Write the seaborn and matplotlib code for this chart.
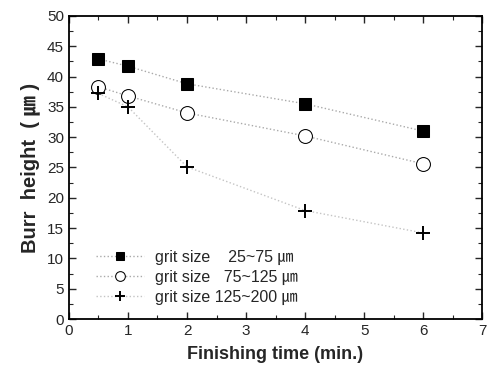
import matplotlib

matplotlib.use("Agg")

import matplotlib.pyplot as plt
import numpy as np
import pandas as pd
import seaborn as sns
from matplotlib.ticker import MultipleLocator

# dados
tempo = [0.5, 1, 2, 4, 6]
burr_25_75 = [42.9, 41.7, 38.8, 35.5, 31.0]
burr_75_125 = [38.3, 36.8, 34.0, 30.2, 25.6]
burr_125_200 = [37.2, 35.0, 25.1, 17.9, 14.2]
rotulos = [
    "grit size    25~75 ㎛",
    "grit size   75~125 ㎛",
    "grit size 125~200 ㎛",
]

sns.set_theme(style="ticks")
plt.rcParams["font.family"] = ["Liberation Sans", "Noto Sans CJK JP", "DejaVu Sans"]

df = pd.DataFrame(
    {
        "tempo": tempo * 3,
        "burr": burr_25_75 + burr_75_125 + burr_125_200,
        "serie": np.repeat(rotulos, len(tempo)),
    }
)

fig = plt.figure(figsize=(4.89, 3.78), dpi=100)
ax = fig.add_axes([0.141, 0.156, 0.845, 0.802])

estilos = {
    rotulos[0]: dict(marker="s", ms=9, mfc="black", mec="black", color="#aaaaaa"),
    rotulos[1]: dict(marker="o", ms=10, mfc="white", mec="black", color="#aaaaaa"),
    rotulos[2]: dict(marker="+", ms=10, mew=1.4, mec="black", color="#c4c4c4"),
}

for nome in rotulos:
    sub = df[df["serie"] == nome]
    sns.lineplot(
        data=sub,
        x="tempo",
        y="burr",
        ax=ax,
        label=nome,
        linestyle=":",
        linewidth=1.0,
        **estilos[nome],
    )

ax.set_xlim(0, 7)
ax.set_ylim(0, 50)
ax.xaxis.set_major_locator(MultipleLocator(1))
ax.xaxis.set_minor_locator(MultipleLocator(0.5))
ax.yaxis.set_major_locator(MultipleLocator(5))
ax.yaxis.set_minor_locator(MultipleLocator(2.5))
ax.tick_params(which="both", direction="in", top=True, right=True, labelsize=11)
ax.tick_params(which="major", length=5, width=1)
ax.tick_params(which="minor", length=3, width=0.8)
for s in ax.spines.values():
    s.set_linewidth(1.3)
    s.set_color("black")

ax.set_xlabel("Finishing time (min.)", fontsize=13, fontweight="bold", labelpad=6)
ax.set_ylabel("Burr  height  ( ㎛ )", fontsize=14.5, fontweight="bold", labelpad=5)

ax.legend(
    loc="lower left",
    bbox_to_anchor=(0.03, 0.0),
    frameon=False,
    fontsize=11.5,
    handlelength=3.0,
    handletextpad=0.7,
    labelspacing=0.3,
    markerscale=0.7,
)

fig.savefig("out.png", dpi=100)
